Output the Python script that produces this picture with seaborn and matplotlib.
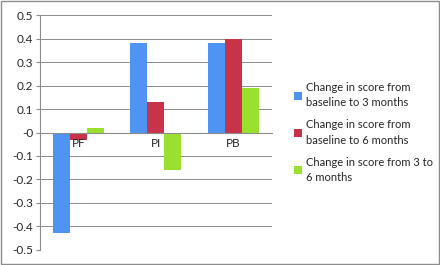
import matplotlib
matplotlib.use("Agg")
import matplotlib.pyplot as plt
import numpy as np
import pandas as pd
import seaborn as sns

# data
categories = ["PF", "PI", "PB"]
series = [
    "Change in score from\nbaseline to 3 months",
    "Change in score from\nbaseline to 6 months",
    "Change in score from 3 to\n6 months",
]
base_to_3 = [-0.43, 0.38, 0.38]
base_to_6 = [-0.03, 0.13, 0.40]
m3_to_6 = [0.02, -0.16, 0.19]
colors = ["#4F94F2", "#C8334A", "#9AE02E"]

rows = []
for s, vals in zip(series, [base_to_3, base_to_6, m3_to_6]):
    for c, v in zip(categories, vals):
        rows.append({"cat": c, "series": s, "value": v})
df = pd.DataFrame(rows)

sns.set_style("white")
plt.rcParams["font.family"] = ["Lato", "DejaVu Sans"]

fig = plt.figure(figsize=(4.4, 2.65), dpi=100)
ax = fig.add_axes([0.091, 0.057, 0.527, 0.886])

sns.barplot(data=df, x="cat", y="value", hue="series", order=categories,
            hue_order=series, palette=colors, width=0.66, saturation=1,
            edgecolor="none", ax=ax, legend=True)

ax.set_ylim(-0.5, 0.5)
ax.set_xlim(-0.5, 2.5)
ticks = np.round(np.arange(-0.5, 0.51, 0.1), 1)
ax.set_yticks(ticks)
ax.set_yticklabels([f"{v:g}" for v in ticks], fontsize=8.5)
ax.yaxis.grid(True, color="#8c8c8c", linewidth=0.7)
ax.set_axisbelow(True)

# category axis sits on zero, labels drawn over the bars
ax.spines["bottom"].set_position(("data", 0))
ax.spines["bottom"].set_color("#8c8c8c")
ax.spines["left"].set_color("#8c8c8c")
ax.spines["top"].set_visible(False)
ax.spines["right"].set_visible(False)
ax.set_xticks([-0.5, 0.5, 1.5, 2.5])
ax.set_xticklabels([])
ax.set_xticks(range(len(categories)), minor=True)
ax.set_xticklabels(categories, minor=True, fontsize=8.5)
ax.tick_params(axis="x", which="major", length=3, color="#8c8c8c", direction="out")
ax.tick_params(axis="x", which="minor", length=0, pad=4)
ax.tick_params(axis="y", length=3, color="#8c8c8c", direction="out", pad=2, left=True)
ax.xaxis.set_zorder(5)
ax.set_xlabel("")
ax.set_ylabel("")

handles, labels = ax.get_legend_handles_labels()
ax.get_legend().remove()
leg = fig.legend(handles, labels, loc="center left", bbox_to_anchor=(0.645, 0.5),
                 frameon=False, fontsize=8, handlelength=0.7, handleheight=0.7,
                 handletextpad=0.4, labelspacing=1.0)
for t in leg.get_texts():
    t.set_linespacing(1.45)

fig.patches.append(plt.Rectangle((0.002, 0.003), 0.996, 0.994, transform=fig.transFigure,
                                 fill=False, edgecolor="#8c8c8c", linewidth=1))

fig.savefig("out.png", dpi=100)
